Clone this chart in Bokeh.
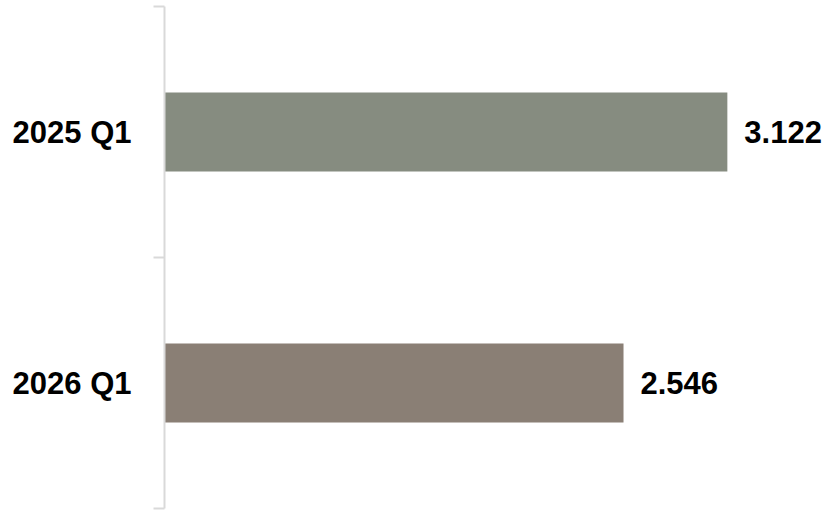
from bokeh.plotting import figure
from bokeh.models import ColumnDataSource, Range1d, FixedTicker
from bokeh.core.properties import value
from bokeh.embed import file_html
from bokeh.resources import INLINE

categories = ["2025 Q1", "2026 Q1"]
values = [3.122, 2.546]
labels = ["3.122", "2.546"]
colors = ["#868C80", "#8A7F75"]

pos = [i + 0.5 for i in range(len(categories))]
src = ColumnDataSource(dict(y=pos, v=values, lab=labels, c=colors))

p = figure(width=828, height=510, output_backend="svg", toolbar_location=None,
           x_range=Range1d(0, 3.683), y_range=Range1d(len(categories), 0),
           min_border_left=164, min_border_right=0, min_border_top=6, min_border_bottom=2)
p.background_fill_color = "white"
p.border_fill_color = "white"
p.outline_line_color = None
p.xgrid.visible = False
p.ygrid.visible = False
p.xaxis.visible = False

p.hbar(y="y", left=0, right="v", height=0.315, fill_color="c", line_color=None, source=src)
p.text(x="v", y="y", text="lab", source=src, x_offset=17, text_align="left",
       text_baseline="middle", text_font=value("Liberation Sans"), text_font_style="bold",
       text_font_size="31px", text_color="black")

ax = p.yaxis[0]
ax.ticker = FixedTicker(ticks=pos, minor_ticks=list(range(len(categories) + 1)))
ax.major_label_overrides = {pv: c for pv, c in zip(pos, categories)}
ax.major_tick_line_color = None
ax.major_tick_out = 0
ax.major_tick_in = 0
ax.minor_tick_line_color = "#d9d9d9"
ax.minor_tick_line_width = 2
ax.minor_tick_out = 11
ax.minor_tick_in = 0
ax.axis_line_color = "#d9d9d9"
ax.axis_line_width = 2
ax.major_label_standoff = 22
ax.major_label_text_font = "Liberation Sans"
ax.major_label_text_font_style = "bold"
ax.major_label_text_font_size = "31px"
ax.major_label_text_color = "black"

open("out.html", "w").write(file_html(p, INLINE))
